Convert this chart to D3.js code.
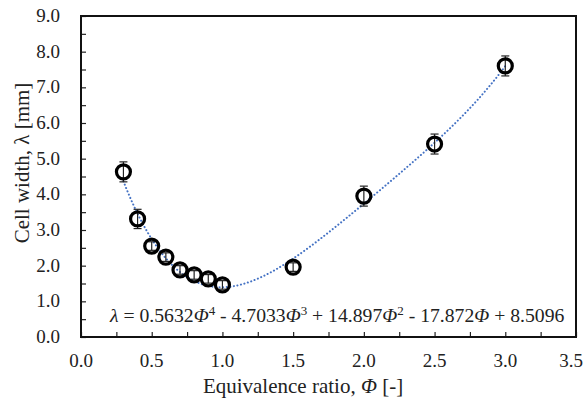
<!DOCTYPE html>
<html>
<head>
<meta charset="utf-8">
<script src="https://cdn.jsdelivr.net/npm/d3@7"></script>
<style>
  body { margin: 0; background: #fff; }
</style>
</head>
<body>
<div id="chart"></div>
<script>
// measured data
const phi = [0.3, 0.4, 0.5, 0.6, 0.7, 0.8, 0.9, 1.0, 1.5, 2.0, 2.5, 3.0];
const cellWidth = [4.63, 3.31, 2.55, 2.24, 1.88, 1.74, 1.63, 1.46, 1.96, 3.95, 5.41, 7.6];
const errors = [0.28, 0.27, 0.12, 0.12, 0.12, 0.12, 0.12, 0.12, 0.12, 0.28, 0.28, 0.28];
// trendline coefficients, highest power first (from the fit equation)
const fitCoef = [0.5632, -4.7033, 14.897, -17.872, 8.5096];
const xTicks = [0, 0.5, 1.0, 1.5, 2.0, 2.5, 3.0, 3.5];
const yTicks = [0, 1, 2, 3, 4, 5, 6, 7, 8, 9];

const width = 585, height = 398;
const margin = { left: 81, right: 9, top: 16, bottom: 61 };
const FONT = "'Liberation Serif', 'DejaVu Serif', serif";

const svg = d3.select("#chart").append("svg")
    .attr("width", width)
    .attr("height", height)
    .attr("font-family", FONT);

const x = d3.scaleLinear().domain([0, 3.5]).range([margin.left, width - margin.right]);
const y = d3.scaleLinear().domain([0, 9]).range([height - margin.bottom, margin.top]);

// inward ticks
const xAxis = d3.axisBottom(x).tickValues(d3.range(0, 3.5001, 0.25)).tickSize(-5).tickFormat("");
const yAxis = d3.axisLeft(y).tickValues(d3.range(0, 9.001, 0.5)).tickSize(-5).tickFormat("");

const gx = svg.append("g").attr("transform", `translate(0,${y(0)})`).call(xAxis);
const gy = svg.append("g").attr("transform", `translate(${x(0)},0)`).call(yAxis);
[gx, gy].forEach(g => {
    g.attr("font-family", null);
    g.select(".domain").remove();
    g.selectAll("line").attr("stroke", "#222").attr("stroke-width", 1.2);
});

// tick labels (last one kept inside the window)
svg.append("g").selectAll("text")
    .data(xTicks)
    .join("text")
    .attr("x", d => Math.min(x(d), width - 14))
    .attr("y", 367)
    .attr("text-anchor", "middle")
    .attr("fill", "#222")
    .style("font-size", "19px")
    .text(d => d.toFixed(1));

svg.append("g").selectAll("text")
    .data(yTicks)
    .join("text")
    .attr("x", 60)
    .attr("y", d => y(d) + 6)
    .attr("text-anchor", "end")
    .attr("fill", "#222")
    .style("font-size", "19px")
    .text(d => d.toFixed(1));

// frame
svg.append("rect")
    .attr("x", x(0))
    .attr("y", y(9))
    .attr("width", x(3.5) - x(0))
    .attr("height", y(0) - y(9))
    .attr("fill", "none")
    .attr("stroke", "#111")
    .attr("stroke-width", 2);

// trendline
const poly = v => fitCoef.reduce((acc, c) => acc * v + c, 0);
const fitX = d3.range(phi[0], phi[phi.length - 1] + 0.0001, 0.02);
svg.append("path")
    .datum(fitX)
    .attr("fill", "none")
    .attr("stroke", "#4472C4")
    .attr("stroke-width", 2)
    .attr("stroke-dasharray", "0.1 3.5")
    .attr("stroke-linecap", "round")
    .attr("d", d3.line().x(d => x(d)).y(d => y(poly(d))));

// error bars
const pts = phi.map((p, i) => ({ p, v: cellWidth[i], e: errors[i] }));
const eb = svg.append("g").attr("stroke", "#222").attr("stroke-width", 1.2);
eb.selectAll("line.stem")
    .data(pts).join("line")
    .attr("class", "stem")
    .attr("x1", d => x(d.p)).attr("x2", d => x(d.p))
    .attr("y1", d => y(d.v + d.e)).attr("y2", d => y(d.v - d.e));
eb.selectAll("line.capTop")
    .data(pts).join("line")
    .attr("class", "capTop")
    .attr("x1", d => x(d.p) - 4).attr("x2", d => x(d.p) + 4)
    .attr("y1", d => y(d.v + d.e)).attr("y2", d => y(d.v + d.e));
eb.selectAll("line.capBot")
    .data(pts).join("line")
    .attr("class", "capBot")
    .attr("x1", d => x(d.p) - 4).attr("x2", d => x(d.p) + 4)
    .attr("y1", d => y(d.v - d.e)).attr("y2", d => y(d.v - d.e));

// markers
svg.append("g").selectAll("circle")
    .data(pts).join("circle")
    .attr("cx", d => x(d.p))
    .attr("cy", d => y(d.v))
    .attr("r", 7)
    .attr("fill", "none")
    .attr("stroke", "#000")
    .attr("stroke-width", 3.2);

// equation
const eq = svg.append("text")
    .attr("x", 110)
    .attr("y", 322)
    .attr("fill", "#222")
    .style("font-size", "19.7px");
const parts = [
    ["λ", true], [" = 0.5632", false], ["Φ", true], ["4", false, true],
    [" - 4.7033", false], ["Φ", true], ["3", false, true],
    [" + 14.897", false], ["Φ", true], ["2", false, true],
    [" - 17.872", false], ["Φ", true], [" + 8.5096", false]
];
parts.forEach(([t, it, sup], i) => {
    const ts = eq.append("tspan").text(t);
    if (it) ts.style("font-style", "italic");
    if (sup) ts.attr("dy", -7).style("font-size", "13px");
    else if (i > 0 && parts[i - 1][2]) ts.attr("dy", 7);
});

// axis titles
const xt = svg.append("text")
    .attr("x", 303)
    .attr("y", 393)
    .attr("text-anchor", "middle")
    .attr("fill", "#222")
    .style("font-size", "21px");
xt.append("tspan").text("Equivalence ratio, ");
xt.append("tspan").style("font-style", "italic").text("Φ");
xt.append("tspan").text(" [-]");

svg.append("text")
    .attr("transform", "translate(29,163) rotate(-90)")
    .attr("text-anchor", "middle")
    .attr("fill", "#222")
    .style("font-size", "21px")
    .text("Cell width, λ [mm]");
</script>
</body>
</html>
